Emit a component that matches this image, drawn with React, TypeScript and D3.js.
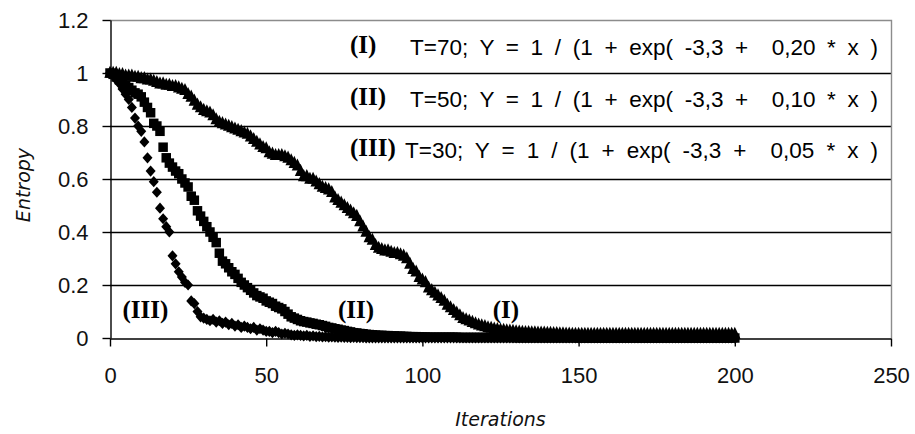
import React, { useEffect, useRef } from 'react';
import * as d3 from 'd3';

// iteration index for every point (0..200)
const iterations = d3.range(0, 201);

// (I) T=70, triangles
const entropyI = [
    1.00, 1.00, 1.00, 0.995, 0.995, 0.99, 0.99, 0.99, 0.985, 0.985,
    0.98, 0.98, 0.975, 0.975, 0.97, 0.965, 0.96, 0.96, 0.955, 0.955,
    0.95, 0.95, 0.945, 0.94, 0.935, 0.92, 0.91, 0.895, 0.88, 0.87,
    0.86, 0.855, 0.85, 0.84, 0.825, 0.815, 0.81, 0.805, 0.80, 0.795,
    0.79, 0.785, 0.78, 0.775, 0.77, 0.76, 0.75, 0.74, 0.73, 0.72,
    0.715, 0.70, 0.695, 0.69, 0.69, 0.69, 0.685, 0.68, 0.67, 0.66,
    0.65, 0.63, 0.61, 0.61, 0.60, 0.60, 0.59, 0.58, 0.57, 0.565,
    0.56, 0.55, 0.53, 0.52, 0.51, 0.50, 0.49, 0.48, 0.47, 0.46,
    0.44, 0.42, 0.40, 0.38, 0.37, 0.35, 0.34, 0.335, 0.33, 0.33,
    0.325, 0.32, 0.32, 0.315, 0.31, 0.30, 0.28, 0.26, 0.25, 0.23,
    0.22, 0.21, 0.19, 0.18, 0.17, 0.16, 0.15, 0.14, 0.125, 0.115,
    0.105, 0.095, 0.085, 0.075, 0.07, 0.065, 0.06, 0.055, 0.05, 0.047,
    0.044, 0.04, 0.038, 0.035, 0.033, 0.031, 0.03, 0.028, 0.027, 0.026,
    0.025, 0.024, 0.023, 0.022, 0.022, 0.021, 0.021, 0.02, 0.02, 0.02,
    0.019, 0.019, 0.018, 0.018, 0.017, 0.017, 0.016, 0.016, 0.015, 0.015,
    0.015, 0.015, 0.015, 0.015, 0.015, 0.015, 0.015, 0.015, 0.015, 0.015,
    0.015, 0.015, 0.015, 0.015, 0.015, 0.015, 0.015, 0.015, 0.015, 0.015,
    0.015, 0.015, 0.015, 0.015, 0.015, 0.015, 0.015, 0.015, 0.015, 0.015,
    0.015, 0.015, 0.015, 0.015, 0.015, 0.015, 0.015, 0.015, 0.015, 0.015,
    0.015, 0.015, 0.015, 0.015, 0.015, 0.015, 0.015, 0.015, 0.015, 0.015,
    0.015
];

// (II) T=50, squares
const entropyII = [
    1.00, 0.995, 0.985, 0.975, 0.965, 0.955, 0.945, 0.935, 0.925, 0.92,
    0.91, 0.89, 0.87, 0.85, 0.81, 0.80, 0.78, 0.72, 0.68, 0.66,
    0.645, 0.63, 0.62, 0.60, 0.585, 0.57, 0.535, 0.52, 0.48, 0.46,
    0.44, 0.42, 0.40, 0.38, 0.36, 0.32, 0.29, 0.28, 0.265, 0.25,
    0.24, 0.225, 0.21, 0.20, 0.19, 0.18, 0.17, 0.16, 0.155, 0.15,
    0.14, 0.135, 0.13, 0.12, 0.115, 0.11, 0.10, 0.09, 0.08, 0.075,
    0.07, 0.065, 0.062, 0.06, 0.057, 0.055, 0.052, 0.05, 0.047, 0.044,
    0.04, 0.038, 0.035, 0.033, 0.03, 0.028, 0.025, 0.023, 0.02, 0.019,
    0.017, 0.016, 0.014, 0.013, 0.012, 0.011, 0.01, 0.01, 0.009, 0.009,
    0.008, 0.008, 0.007, 0.007, 0.006, 0.006, 0.005, 0.005, 0.005, 0.004,
    0.004, 0.004, 0.003, 0.003, 0.003, 0.003, 0.003, 0.003, 0.003, 0.003,
    0.003, 0.003, 0.002, 0.002, 0.002, 0.002, 0.002, 0.002, 0.002, 0.002,
    0.002, 0.002, 0.002, 0.002, 0.002, 0.002, 0.002, 0.002, 0.002, 0.002,
    0.001, 0.001, 0.001, 0.001, 0.001, 0.001, 0.001, 0.001, 0.001, 0.001,
    0.001, 0.001, 0.001, 0.001, 0.001, 0.001, 0.001, 0.001, 0.001, 0.001,
    0, 0, 0, 0, 0, 0, 0, 0, 0, 0,
    0, 0, 0, 0, 0, 0, 0, 0, 0, 0,
    0, 0, 0, 0, 0, 0, 0, 0, 0, 0,
    0, 0, 0, 0, 0, 0, 0, 0, 0, 0,
    0, 0, 0, 0, 0, 0, 0, 0, 0, 0,
    0
];

// (III) T=30, diamonds
const entropyIII = [
    1.00, 0.99, 0.975, 0.96, 0.94, 0.92, 0.90, 0.87, 0.83, 0.80,
    0.78, 0.74, 0.68, 0.63, 0.59, 0.55, 0.49, 0.45, 0.42, 0.40,
    0.31, 0.28, 0.25, 0.23, 0.21, 0.20, 0.14, 0.13, 0.10, 0.08,
    0.075, 0.07, 0.065, 0.07, 0.06, 0.065, 0.055, 0.06, 0.05, 0.055,
    0.045, 0.05, 0.04, 0.045, 0.04, 0.035, 0.04, 0.03, 0.035, 0.03,
    0.025, 0.025, 0.02, 0.025, 0.02, 0.015, 0.018, 0.015, 0.012, 0.01,
    0.012, 0.01, 0.008, 0.01, 0.006, 0.008, 0.005, 0.006, 0.004, 0.005,
    0.003, 0.004, 0.003, 0.002, 0.003, 0.002, 0.002, 0.001, 0.002, 0.001,
    0.001, 0.001, 0, 0, 0, 0, 0, 0, 0, 0,
    0, 0, 0, 0, 0, 0, 0, 0, 0, 0,
    0, 0, 0, 0, 0, 0, 0, 0, 0, 0,
    0, 0, 0, 0, 0, 0, 0, 0, 0, 0,
    0, 0, 0, 0, 0, 0, 0, 0, 0, 0,
    0, 0, 0, 0, 0, 0, 0, 0, 0, 0,
    0, 0, 0, 0, 0, 0, 0, 0, 0, 0,
    0, 0, 0, 0, 0, 0, 0, 0, 0, 0,
    0, 0, 0, 0, 0, 0, 0, 0, 0, 0,
    0, 0, 0, 0, 0, 0, 0, 0, 0, 0,
    0, 0, 0, 0, 0, 0, 0, 0, 0, 0,
    0, 0, 0, 0, 0, 0, 0, 0, 0, 0,
    0
];

const xTicks = [0, 50, 100, 150, 200, 250];
const yTicks = [0, 0.2, 0.4, 0.6, 0.8, 1, 1.2];

const legendNumerals = ['(I)', '(II)', '(III)'];
const legendFormulas = [
    'T=70; Y = 1 / (1 + exp( -3,3 +  0,20 * x )',
    'T=50; Y = 1 / (1 + exp( -3,3 +  0,10 * x )',
    'T=30; Y = 1 / (1 + exp( -3,3 +  0,05 * x )'
];
const curveLabels = ['(III)', '(II)', '(I)'];

// excel-like markers: size = marker width in px
const triangleMarker = {
    draw(ctx, s) {
        const h = s * 1.05;
        ctx.moveTo(0, -h * 0.6);
        ctx.lineTo(s / 2, h * 0.4);
        ctx.lineTo(-s / 2, h * 0.4);
        ctx.closePath();
    }
};
const diamondMarker = {
    draw(ctx, s) {
        const h = s * 1.12;
        ctx.moveTo(0, -h / 2);
        ctx.lineTo(s / 2, 0);
        ctx.lineTo(0, h / 2);
        ctx.lineTo(-s / 2, 0);
        ctx.closePath();
    }
};
const squareMarker = {
    draw(ctx, s) {
        ctx.rect(-s / 2, -s / 2, s, s);
    }
};

const App = () => {
    const ref = useRef<SVGSVGElement>(null);

    useEffect(() => {
        const svgWidth = 915, svgHeight = 434;
        const plotLeft = 110, plotRight = 891, plotTop = 20, plotBottom = 338;

        const xScale = d3.scaleLinear().domain([0, 250]).range([plotLeft, plotRight]);
        const yScale = d3.scaleLinear().domain([0, 1.2]).range([plotBottom, plotTop]);

        const svg = d3.select(ref.current)
            .attr('width', svgWidth)
            .attr('height', svgHeight);
        svg.selectAll('*').remove();

        svg.append('rect').attr('width', svgWidth).attr('height', svgHeight).attr('fill', '#fff');

        // gridlines
        svg.append('g').selectAll('line')
            .data(yTicks.filter(t => t > 0 && t < 1.2))
            .enter().append('line')
            .attr('x1', plotLeft).attr('x2', plotRight)
            .attr('y1', d => Math.round(yScale(d)) + 0.5)
            .attr('y2', d => Math.round(yScale(d)) + 0.5)
            .attr('stroke', '#000')
            .attr('stroke-width', 1.4);

        // plot border (top & right)
        svg.append('path')
            .attr('d', `M${plotLeft},${plotTop + 0.5}H${plotRight + 0.5}V${plotBottom}`)
            .attr('fill', 'none')
            .attr('stroke', '#8c8c8c')
            .attr('stroke-width', 1.4);

        const tickFont = '"Liberation Sans", Arial, sans-serif';

        const yAxis = svg.append('g')
            .attr('transform', `translate(${plotLeft + 0.5},0)`)
            .call(d3.axisLeft(yScale).tickValues(yTicks).tickSize(8).tickSizeOuter(0).tickPadding(14)
                .tickFormat(d => String(+(+d).toFixed(1))));
        const xAxis = svg.append('g')
            .attr('transform', `translate(0,${plotBottom + 0.5})`)
            .call(d3.axisBottom(xScale).tickValues(xTicks).tickSize(8).tickSizeOuter(0).tickPadding(21)
                .tickFormat(d => String(d)));

        [yAxis, xAxis].forEach(ax => {
            ax.attr('font-family', tickFont).attr('font-size', 22);
            ax.selectAll('path, line').attr('stroke', '#000').attr('stroke-width', 1.4);
            ax.selectAll('text').attr('fill', '#111');
        });

        // series markers
        const seriesList = [
            { name: 'I', values: entropyI, shape: triangleMarker, size: 11.5 },
            { name: 'II', values: entropyII, shape: squareMarker, size: 9.5 },
            { name: 'III', values: entropyIII, shape: diamondMarker, size: 10 }
        ];

        seriesList.forEach(s => {
            const symbolPath = d3.symbol().type(s.shape).size(s.size)();
            svg.append('g').attr('class', 'series-' + s.name)
                .selectAll('path')
                .data(iterations.map((it, i) => ({ it, v: s.values[i] })))
                .enter().append('path')
                .attr('d', symbolPath)
                .attr('transform', d => `translate(${xScale(d.it)},${yScale(d.v)})`)
                .attr('fill', '#000');
        });

        // legend text (top right)
        const serif = '"Liberation Serif", "Times New Roman", serif';
        const legend = svg.append('g').attr('class', 'legend');
        legendFormulas.forEach((f, i) => {
            const baseline = plotTop + 35 + i * 51.5;
            legend.append('text')
                .attr('x', 350).attr('y', baseline - 2)
                .attr('font-family', serif).attr('font-weight', 'bold').attr('font-size', 25)
                .text(legendNumerals[i]);
            const t = legend.append('text')
                .attr('x', 878).attr('y', baseline)
                .attr('text-anchor', 'end')
                .attr('font-family', '"Liberation Sans", Arial, sans-serif')
                .attr('font-size', 22.5)
                .style('white-space', 'pre')
                .text(f);
            // widen the gaps between tokens so the line starts where the original does
            const target = i === 2 ? 473 : 468;
            const natural = (t.node() as SVGTextElement).getComputedTextLength();
            const gaps = f.split(' ').length - 1;
            t.style('word-spacing', `${Math.max(0, (target - natural) / gaps)}px`);
        });

        // curve labels near the bottom
        const labelAnchors = [4, 73, 122.5];
        curveLabels.forEach((lab, i) => {
            svg.append('text')
                .attr('x', xScale(labelAnchors[i]))
                .attr('y', yScale(0.075))
                .attr('font-family', serif).attr('font-weight', 'bold').attr('font-size', 25)
                .text(lab);
        });

        // axis titles
        const titleFont = '"DejaVu Sans", Verdana, sans-serif';
        svg.append('text')
            .attr('x', (plotLeft + plotRight) / 2).attr('y', 426)
            .attr('text-anchor', 'middle')
            .attr('font-family', titleFont).attr('font-style', 'italic').attr('font-size', 19)
            .attr('fill', '#111')
            .text('Iterations');
        svg.append('text')
            .attr('transform', `translate(30,${(plotTop + plotBottom) / 2 + 6}) rotate(-90)`)
            .attr('text-anchor', 'middle')
            .attr('font-family', titleFont).attr('font-style', 'italic').attr('font-size', 19)
            .attr('fill', '#111')
            .text('Entropy');
    }, []);

    return <svg ref={ref} style={{ position: 'absolute', left: 0, top: 0 }}></svg>;
};

export default App;
